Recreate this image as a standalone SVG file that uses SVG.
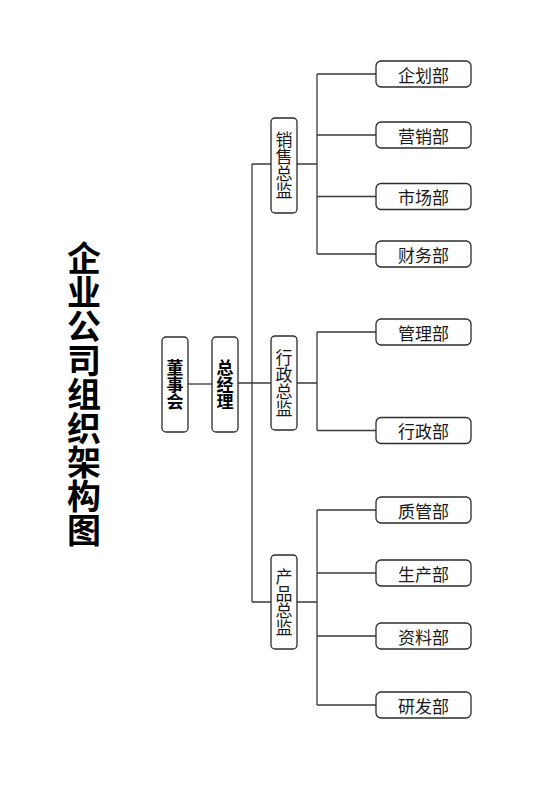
<svg xmlns="http://www.w3.org/2000/svg" width="560" height="792" viewBox="0 0 560 792">
<style>
.box{fill:#fff;stroke:#2b2b2b;stroke-width:1.3}
.ln{fill:none;stroke:#3a3a3a;stroke-width:1.3}
.t{font-family:"Noto Sans CJK SC","Noto Sans",sans-serif;font-size:17px;fill:#1a1a1a;text-anchor:middle;dominant-baseline:central}
.v{writing-mode:vertical-rl}
.b{font-weight:bold;fill:#000}
.title{font-family:"Noto Sans CJK SC","Noto Sans",sans-serif;font-size:34px;font-weight:bold;fill:#000;text-anchor:middle;dominant-baseline:central;writing-mode:vertical-rl}
</style>
<rect width="560" height="792" fill="#fff"/>
<g id="title">
<text class="title" x="84" y="394">企业公司组织架构图</text>
</g>
<g id="connectors">
<path class="ln" d="M188 384H212"/>
<path class="ln" d="M238 383H271"/>
<path class="ln" d="M252 164V602"/>
<path class="ln" d="M252 164H271M252 602H271"/>
<path class="ln" d="M297 164H317M317 74V254M317 74H376M317 135H376M317 196.5H376M317 254H376"/>
<path class="ln" d="M297 383H317M317 332V430.5M317 332H376M317 430.5H376"/>
<path class="ln" d="M297 602H317M317 510V705M317 510H376M317 573H376M317 636H376M317 705H376"/>
</g>
<g id="board">
<rect class="box" x="162" y="337" width="26" height="95" rx="4"/>
<text class="t v b" x="175" y="384.5">董事会</text>
</g>
<g id="gm">
<rect class="box" x="212" y="337" width="26" height="95" rx="4"/>
<text class="t v b" x="225" y="384.5">总经理</text>
</g>
<g id="sales">
<rect class="box" x="271" y="118" width="26" height="95" rx="4"/>
<text class="t v" x="284" y="165.5">销售总监</text>
</g>
<g id="admin">
<rect class="box" x="271" y="336" width="26" height="94" rx="4"/>
<text class="t v" x="284" y="383">行政总监</text>
</g>
<g id="product">
<rect class="box" x="271" y="555" width="26" height="94" rx="4"/>
<text class="t v" x="284" y="602">产品总监</text>
</g>
<g id="d1"><rect class="box" x="376" y="61" width="95" height="26" rx="5"/><text class="t" x="423.5" y="74">企划部</text></g>
<g id="d2"><rect class="box" x="376" y="122" width="95" height="26" rx="5"/><text class="t" x="423.5" y="135">营销部</text></g>
<g id="d3"><rect class="box" x="376" y="183.5" width="95" height="26" rx="5"/><text class="t" x="423.5" y="196.5">市场部</text></g>
<g id="d4"><rect class="box" x="376" y="241" width="95" height="26" rx="5"/><text class="t" x="423.5" y="254">财务部</text></g>
<g id="d5"><rect class="box" x="376" y="319" width="95" height="26" rx="5"/><text class="t" x="423.5" y="332">管理部</text></g>
<g id="d6"><rect class="box" x="376" y="417.5" width="95" height="26" rx="5"/><text class="t" x="423.5" y="430.5">行政部</text></g>
<g id="d7"><rect class="box" x="376" y="497" width="95" height="26" rx="5"/><text class="t" x="423.5" y="510">质管部</text></g>
<g id="d8"><rect class="box" x="376" y="560" width="95" height="26" rx="5"/><text class="t" x="423.5" y="573">生产部</text></g>
<g id="d9"><rect class="box" x="376" y="623" width="95" height="26" rx="5"/><text class="t" x="423.5" y="636">资料部</text></g>
<g id="d10"><rect class="box" x="376" y="692" width="95" height="26" rx="5"/><text class="t" x="423.5" y="705">研发部</text></g>
</svg>
